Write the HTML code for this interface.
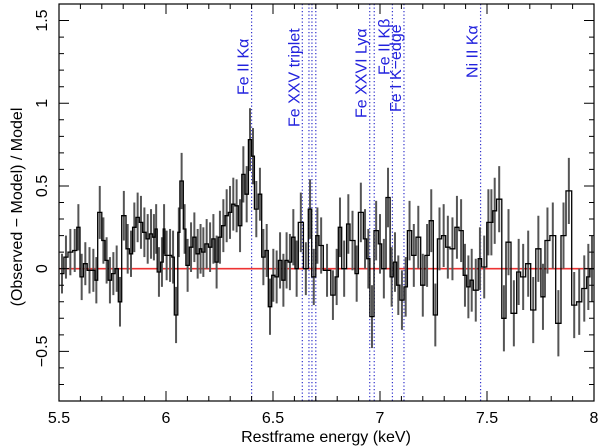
<!DOCTYPE html>
<html><head><meta charset="utf-8"><style>
html,body{margin:0;padding:0;background:#fff;}
svg{display:block;font-family:"Liberation Sans",sans-serif;}
</style></head><body>
<svg id="chart" width="600" height="446" viewBox="0 0 600 446" xmlns="http://www.w3.org/2000/svg">
<g id="lines"></g>
<g id="data"></g>
<g id="axes"></g>
<text transform="translate(22,207) rotate(-90)" text-anchor="middle" font-size="16">(Observed − Model) / Model</text>
<text x="326" y="442" text-anchor="middle" font-size="16">Restframe energy (keV)</text>
</svg>
<script>
const binStart = [5.505,5.523,5.542,5.564,5.583,5.598,5.614,5.632,5.653,5.668,5.681,5.700,5.715,5.730,5.746,5.762,5.777,5.793,5.813,5.829,5.844,5.860,5.875,5.891,5.907,5.922,5.938,5.949,5.959,5.975,5.987,
5.995,6.011,6.027,6.039,6.055,6.065,6.081,6.093,6.109,6.125,6.140,6.156,6.167,6.182,6.198,6.214,6.229,6.244,6.260,6.276,6.291,6.307,6.322,6.338,6.354,6.369,6.385,6.400,6.413,6.431,6.447,6.463,6.478,6.494,
6.509,6.525,6.541,6.556,6.571,6.587,6.603,6.618,6.642,6.665,6.681,6.700,6.715,6.735,6.770,6.790,6.805,6.821,6.844,6.860,6.883,6.899,6.922,6.938,6.953,6.972,6.992,7.008,7.028,7.047,7.062,7.078,7.093,7.112,
7.128,7.148,7.168,7.190,7.210,7.230,7.249,7.268,7.288,7.307,7.327,7.350,7.369,7.389,7.405,7.421,7.436,7.459,7.475,7.499,7.514,7.527,7.545,7.569,7.589,7.612,7.639,7.657,7.681,7.704,7.728,7.752,7.771,7.794,
7.821,7.846,7.869,7.896,7.919,7.943,7.966,7.981];
const binEnd = 8.0;
const ratio = [-0.03,0.07,0.10,0.11,0.25,-0.05,0.03,-0.01,-0.01,-0.07,0.34,0.17,0.05,-0.07,-0.03,0.00,-0.20,0.32,0.12,0.09,0.25,0.31,0.28,0.22,0.18,0.21,0.19,0.24,-0.02,0.04,0.24,
0.08,0.08,0.07,-0.28,0.22,0.53,0.24,0.02,0.13,0.19,0.09,0.12,0.10,0.15,0.13,0.18,0.04,0.19,0.26,0.32,0.34,0.39,0.38,0.26,0.57,0.45,0.78,0.68,0.36,0.45,0.07,0.11,-0.23,-0.04,
-0.05,0.05,-0.07,0.05,0.04,0.19,0.00,0.28,0.00,0.36,-0.05,0.20,0.14,-0.01,-0.16,-0.05,0.25,0.00,0.27,0.17,-0.03,0.34,0.18,0.06,-0.29,0.23,0.15,0.00,0.43,-0.05,0.04,-0.10,-0.19,-0.11,
0.23,0.08,0.19,-0.10,0.08,0.29,-0.28,0.18,0.20,0.13,0.12,0.25,0.23,-0.04,-0.11,-0.07,-0.13,0.06,0.01,0.28,0.28,0.35,0.42,-0.30,0.16,-0.27,-0.02,-0.05,0.03,-0.25,0.12,-0.17,0.17,0.20,-0.33,
0.20,0.47,-0.22,-0.20,-0.12,-0.05,0.00];
const errs = [0.12,0.13,0.14,0.13,0.14,0.14,0.13,0.14,0.13,0.14,0.16,0.14,0.14,0.14,0.13,0.14,0.15,0.15,0.15,0.14,0.15,0.15,0.16,0.15,0.15,0.15,0.14,0.15,0.15,0.15,0.15,
0.15,0.16,0.16,0.17,0.15,0.17,0.15,0.16,0.15,0.15,0.15,0.15,0.15,0.15,0.15,0.15,0.16,0.16,0.16,0.16,0.16,0.16,0.16,0.16,0.17,0.17,0.19,0.17,0.17,0.16,0.17,0.16,0.17,0.16,
0.16,0.17,0.16,0.17,0.17,0.17,0.17,0.18,0.16,0.18,0.17,0.17,0.17,0.16,0.15,0.17,0.18,0.17,0.18,0.18,0.17,0.18,0.18,0.18,0.19,0.18,0.18,0.18,0.18,0.18,0.18,0.18,0.18,0.18,
0.18,0.19,0.19,0.19,0.19,0.19,0.19,0.19,0.19,0.19,0.19,0.19,0.19,0.19,0.19,0.19,0.19,0.19,0.19,0.2,0.2,0.2,0.2,0.2,0.2,0.2,0.2,0.2,0.2,0.2,0.2,0.2,0.2,0.2,
0.2,0.2,0.2,0.2,0.2,0.2,0.2,0.2];
const xTicks = [5.5,6,6.5,7,7.5,8];
const xTickLabels = ["5.5","6","6.5","7","7.5","8"];
const yTicks = [-0.5,0,0.5,1,1.5];
const yTickLabels = ["−0.5","0","0.5","1","1.5"];
const lineEnergies = [6.40,6.637,6.668,6.682,6.700,6.952,6.973,7.058,7.112,7.47];
const labelNames = ["Fe II Kα","Fe XXV triplet","Fe XXVI Lyα","Fe II Kβ","Fe I K−edge","Ni II Kα"];
const labelEnergies = [6.40,6.637,6.952,7.058,7.112,7.47];
const labelBottoms = [95,127,118,75,112,78];

const NS="http://www.w3.org/2000/svg";
const L=59,R=594,T=4,B=401,X0=5.5,X1=8,Y0=-0.8,Y1=1.6;
const xs=e=>L+(e-X0)/(X1-X0)*(R-L);
const ys=v=>B-(v-Y0)/(Y1-Y0)*(B-T);
function mk(tag,attrs,parent){const el=document.createElementNS(NS,tag);for(const k in attrs)el.setAttribute(k,attrs[k]);parent.appendChild(el);return el;}
const gl=document.getElementById('lines'),gd=document.getElementById('data'),ga=document.getElementById('axes');

lineEnergies.forEach(e=>{
  const l=mk('line',{x1:xs(e),x2:xs(e),y1:T,y2:B,stroke:'#3333cc','stroke-width':1.2,'stroke-dasharray':'1.3,2.2'},gl);
  
  
});
labelNames.forEach((n,i)=>{
  const x=xs(labelEnergies[i])-3,y=labelBottoms[i];
  const t=mk('text',{transform:`translate(${x},${y}) rotate(-90)`,fill:'#2222dd','font-size':16},gl);
  t.textContent=n;
  
  
});

const z=mk('line',{x1:L,x2:R,y1:ys(0),y2:ys(0),stroke:'#ee3333','stroke-width':1.6},gd);



binStart.forEach((s,i)=>{
  const e=i+1<binStart.length?binStart[i+1]:binEnd;
  const c=xs((s+e)/2);
  const eb=mk('line',{x1:c,x2:c,y1:ys(ratio[i]+errs[i]),y2:ys(ratio[i]-errs[i]),stroke:'#555','stroke-width':2},gd);
  
  
});
let d='';
binStart.forEach((s,i)=>{
  const e=i+1<binStart.length?binStart[i+1]:binEnd;
  d+=(i===0?'M':'L')+xs(s).toFixed(1)+','+ys(ratio[i]).toFixed(1)+'L'+xs(e).toFixed(1)+','+ys(ratio[i]).toFixed(1);
});
const st=mk('path',{d:d,fill:'none',stroke:'#000','stroke-width':1.3},gd);



const fr=mk('rect',{x:L,y:T,width:R-L,height:B-T,fill:'none',stroke:'#000','stroke-width':1.2},ga);


let td='';
for(let k=0;k<=25;k++){const e=5.5+k*0.1,x=xs(e),len=(k%5===0)?10:5;td+=`M${x},${B}v${-len}M${x},${T}v${len}`;}
for(let k=-8;k<=16;k++){const v=k*0.1,y=ys(v),len=(k%5===0)?10:5;td+=`M${L},${y}h${len}M${R},${y}h${-len}`;}
const tk=mk('path',{d:td,stroke:'#000','stroke-width':1},ga);


xTicks.forEach((v,i)=>{
  const t=mk('text',{x:xs(v),y:423,'text-anchor':'middle','font-size':16},ga);
  t.textContent=xTickLabels[i];
  
  
});
yTicks.forEach((v,i)=>{
  const t=mk('text',{transform:`translate(47,${ys(v)}) rotate(-90)`,'text-anchor':'middle','font-size':16},ga);
  t.textContent=yTickLabels[i];
  
  
});
</script>
</body></html>
